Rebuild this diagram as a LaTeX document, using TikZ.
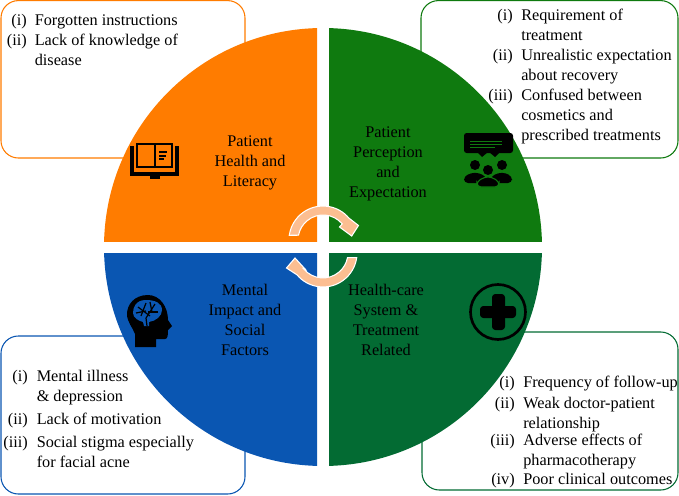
\documentclass[tikz,border=0pt]{standalone}
\usepackage{fontspec}
\setmainfont{Liberation Serif}
\usepackage{tikz}
\usetikzlibrary{arrows.meta,calc}
\definecolor{litorange}{RGB}{255,124,0}
\definecolor{perceptgreen}{RGB}{15,122,15}
\definecolor{mentalblue}{RGB}{10,86,178}
\definecolor{caregreen}{RGB}{3,107,51}
\definecolor{cyclepeach}{RGB}{252,190,145}

\begin{document}
\begin{tikzpicture}[x=0.75pt,y=-0.75pt,
  every node/.style={font=\fontsize{12.2}{15}\selectfont, inner sep=0pt},
  sector/.style={align=center, text=black},
  item/.style={anchor=base west, align=left, yshift=-4.3pt},
  num/.style={anchor=base east, yshift=-4.3pt},
  notebox/.style={fill=white, line width=0.8pt, rounded corners=13pt},
  cycle/.style={fill=cyclepeach, draw=white, line width=0.8pt},
]
\useasboundingbox (0,0) rectangle (679,496);

%% Note boxes behind the disc
\draw[notebox, draw=litorange] (1,0.6) rectangle (245,158);
\draw[notebox, draw=perceptgreen] (421,0.6) rectangle (678,158);
\draw[notebox, draw=mentalblue] (1,336) rectangle (245,494);
\draw[notebox, draw=caregreen] (422,332) rectangle (678,490);

%% Disc quarters, centre (323,247), radius 219
\begin{scope}
  \clip (100,20) rectangle (317,241);
  \fill[litorange] (323,247) circle (219);
\end{scope}
\begin{scope}
  \clip (329,20) rectangle (545,241);
  \fill[perceptgreen] (323,247) circle (219);
\end{scope}
\begin{scope}
  \clip (100,253) rectangle (317,470);
  \fill[mentalblue] (323,247) circle (219);
\end{scope}
\begin{scope}
  \clip (329,253) rectangle (545,470);
  \fill[caregreen] (323,247) circle (219);
\end{scope}

%% Quarter titles
\node[sector] (literacy) at (250,162.5) {Patient\\Health and\\Literacy};
\node[sector] (percept) at (388,163.5) {Patient\\Perception\\and\\Expectation};
\node[sector] (mental) at (245,320) {Mental\\Impact and\\Social\\Factors};
\node[sector] (care) at (386,320) {Health-care\\System \&\\Treatment\\Related};

%% Cycle arrows
\draw[cycle]
  (289.3,235.3) arc[start angle=-172, end angle=-40, radius=34] -- (358.5,225.5) -- (351.7,236)
  -- (339.5,227) -- (342.2,223.9) arc[start angle=-40, end angle=-169, radius=25] -- cycle;
\draw[cycle]
  (356.7,257.7) arc[start angle=8, end angle=140, radius=34] -- (286.5,268) -- (295,258)
  -- (305.5,269.5) -- (303.8,269) arc[start angle=140, end angle=11, radius=25] -- cycle;

%% Book icon
\fill[black] (130,146) rectangle (134,172);
\fill[black] (175,146) rectangle (179,172);
\fill[black] (130,172) rectangle (179,176);
\fill[black] (150,176) rectangle (160,179);
\draw[black, line width=2pt] (137,144) rectangle (172,167);
\draw[black, line width=2pt] (155,144) -- (155,167);
\foreach \yi/\xe in {152/167, 156/166, 159/164}{
  \draw[black, line width=1.3pt] (159,\yi) -- (\xe,\yi);
}

%% Speech bubble and people icon
\fill[black, rounded corners=2pt] (464,133) rectangle (513,153);
\fill[black] (477,152) -- (488,152) -- (482,157) -- cycle;
\fill[black] (489,152) -- (500,152) -- (495,157) -- cycle;
\foreach \yi/\xe in {141/502, 144/502, 147/495}{
  \draw[perceptgreen, line width=0.6pt] (470,\yi) -- (\xe,\yi);
}
\foreach \cx/\cy in {475/165, 502/165, 488/170}{
  \fill[black] (\cx,\cy) circle (5);
}
\fill[black, rounded corners=3pt] (464,183) -- (464,176) -- (475,172) -- (486,176) -- (486,183) -- cycle;
\fill[black, rounded corners=3pt] (491,183) -- (491,176) -- (502,172) -- (512,176) -- (512,183) -- cycle;
\fill[black, rounded corners=3pt, draw=perceptgreen, line width=0.8pt]
  (477,187) -- (477,181) -- (488,176) -- (499,181) -- (499,187) -- cycle;

%% Head icon
\fill[black] (148,295) .. controls (134,295) and (127,305) .. (127,314)
  .. controls (127,322) and (133,328) .. (135,334) -- (135,347) -- (156,347) -- (156,339)
  -- (165,339) .. controls (168,339) and (168,334) .. (168,330) -- (172,326) -- (168,320)
  .. controls (168,307) and (160,295) .. (148,295) -- cycle;
\fill[mentalblue] (146,300) .. controls (136,300) and (133,307) .. (133,313)
  .. controls (133,318) and (139,321) .. (143,322) -- (144,326) -- (149,326) -- (149,322)
  .. controls (156,321) and (162,316) .. (162,310)
  .. controls (162,303) and (155,300) .. (146,300) -- cycle;
\foreach \xa/\ya/\xb/\yb in {138/307/150/316, 146/303/141/316, 155/304/146/318, 158/312/148/312, 146/318/147/326, 136/313/146/311, 150/302/152/312}{
  \draw[black, line width=0.9pt] (\xa,\ya) -- (\xb,\yb);
}

%% Cross icon
\draw[black, line width=2pt] (498,312) circle (27.5);
\fill[black, rounded corners=2.5pt] (492,294) rectangle (505,330);
\fill[black, rounded corners=2.5pt] (480,306) rectangle (516,318);

%% Patient literacy notes
\node[num] (lita) at (27,20) {(i)};
\node[item] (litb) at (34.5,20) {Forgotten instructions};
\node[num] (litc) at (27,40) {(ii)};
\node[item] (litd) at (34.5,40) {Lack of knowledge of};
\node[item] (lite) at (34.5,60) {disease};

%% Perception notes
\node[num] (pera) at (513,15) {(i)};
\node[item] (perb) at (521,15) {Requirement of};
\node[item] (perc) at (521,35) {treatment};
\node[num] (perd) at (513,55) {(ii)};
\node[item] (pere) at (521,55) {Unrealistic expectation};
\node[item] (perf) at (521,75) {about recovery};
\node[num] (perg) at (513,95) {(iii)};
\node[item] (perh) at (521,95) {Confused between};
\node[item] (peri) at (521,115) {cosmetics and};
\node[item] (perj) at (521,135) {prescribed treatments};

%% Mental impact notes
\node[num] (mena) at (28,376) {(i)};
\node[item] (menb) at (36.5,376) {Mental illness};
\node[item] (menc) at (36.5,396) {\& depression};
\node[num] (mend) at (28,419) {(ii)};
\node[item] (mene) at (36.5,419) {Lack of motivation};
\node[num] (menf) at (28,442) {(iii)};
\node[item] (meng) at (36.5,442) {Social stigma especially};
\node[item] (menh) at (36.5,462) {for facial acne};

%% Care system notes
\node[num] (cara) at (515,382) {(i)};
\node[item] (carb) at (523,382) {Frequency of follow-up};
\node[num] (carc) at (515,403) {(ii)};
\node[item] (card) at (523,403) {Weak doctor-patient};
\node[item] (carrel) at (523,423) {relationship};
\node[num] (carf) at (515,440) {(iii)};
\node[item] (carg) at (523,440) {Adverse effects of};
\node[item] (carh) at (523,460) {pharmacotherapy};
\node[num] (cari) at (515,479) {(iv)};
\node[item] (carj) at (523,479) {Poor clinical outcomes};

\end{tikzpicture}
\end{document}
